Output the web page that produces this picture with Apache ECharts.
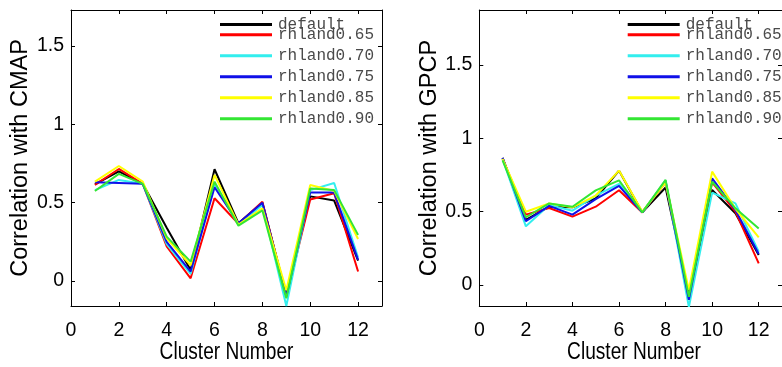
<!DOCTYPE html>
<html>
<head>
<meta charset="utf-8">
<script src="https://cdn.jsdelivr.net/npm/echarts@6/dist/echarts.min.js"></script>
<style>
html,body{margin:0;padding:0;background:#fff;}
#c{width:782px;height:367px;}
</style>
</head>
<body>
<div id="c"></div>
<script>
// ---- data ----
const clusters = [1,2,3,4,5,6,7,8,9,10,11,12];
const seriesNames = ['default','rhland0.65','rhland0.70','rhland0.75','rhland0.85','rhland0.90'];
const seriesColors = ['#000000','#ff0000','#33eeee','#1010e8','#ffff00','#33e633'];

const xTicks = [0,2,4,6,8,10,12];
const yTicks = [0,0.5,1,1.5];
const xTitle = 'Cluster Number';
const yTitleLeft = 'Correlation with CMAP';
const yTitleRight = 'Correlation with GPCP';

// Correlation with CMAP
const cmapDefault = [0.617,0.700,0.620,0.340,0.070,0.713,0.368,0.500,-0.089,0.540,0.513,0.130];
const cmap065     = [0.613,0.715,0.620,0.220,0.017,0.528,0.365,0.506,-0.100,0.520,0.560,0.060];
const cmap070     = [0.580,0.645,0.620,0.235,0.045,0.620,0.360,0.485,-0.160,0.580,0.625,0.150];
const cmap075     = [0.630,0.625,0.620,0.250,0.060,0.598,0.368,0.500,-0.100,0.564,0.564,0.134];
const cmap085     = [0.634,0.734,0.634,0.272,0.100,0.677,0.360,0.464,-0.060,0.613,0.575,0.268];
const cmap090     = [0.574,0.684,0.620,0.283,0.123,0.634,0.353,0.450,-0.110,0.590,0.580,0.294];

// Correlation with GPCP
const gpcpDefault = [0.867,0.444,0.534,0.530,0.590,0.780,0.495,0.665,-0.065,0.648,0.489,0.205];
const gpcp065     = [0.860,0.480,0.525,0.466,0.534,0.646,0.495,0.700,-0.080,0.700,0.500,0.148];
const gpcp070     = [0.860,0.400,0.545,0.507,0.610,0.690,0.495,0.714,-0.150,0.630,0.557,0.227];
const gpcp075     = [0.867,0.435,0.540,0.480,0.586,0.676,0.495,0.705,-0.100,0.727,0.512,0.211];
const gpcp085     = [0.860,0.500,0.556,0.530,0.610,0.780,0.500,0.698,-0.034,0.773,0.520,0.325];
const gpcp090     = [0.850,0.462,0.556,0.534,0.645,0.714,0.495,0.717,-0.080,0.704,0.523,0.386];

const cmapSets = [cmapDefault,cmap065,cmap070,cmap075,cmap085,cmap090];
const gpcpSets = [gpcpDefault,gpcp065,gpcp070,gpcp075,gpcp085,gpcp090];

// ---- chart ----
const regular = "'Liberation Sans',Arial,sans-serif";
const mono = "'Liberation Mono','DejaVu Sans Mono',monospace";

function xAx(grid, pos, show){
  return {
    type:'value', gridIndex:grid, position:pos, min:0, max:13,
    axisLine:{show:true, onZero:false, lineStyle:{color:'#000', width:1}},
    axisTick:{show:true, inside:true, length:4, customValues:xTicks, lineStyle:{color:'#000'}},
    axisLabel:{show:show, customValues:xTicks, margin:15, fontFamily:regular, fontSize:19.5, color:'#000'},
    splitLine:{show:false}
  };
}
function yAx(grid, pos, show, min, max, title){
  return {
    type:'value', gridIndex:grid, position:pos, min:min, max:max,
    name: show ? title : '', nameLocation:'middle', nameGap:35, nameRotate:90,
    nameTextStyle:{fontFamily:regular, fontSize:23.5, color:'#000'},
    axisLine:{show:true, onZero:false, lineStyle:{color:'#000', width:1}},
    axisTick:{show:true, inside:true, length:4, customValues:yTicks, lineStyle:{color:'#000'}},
    axisLabel:{show:show, customValues:yTicks, margin:7, fontFamily:regular, fontSize:19.5, color:'#000',
      formatter:function(v){return String(v);}},
    splitLine:{show:false}
  };
}

const series = [];
function addSeries(sets, grid){
  sets.forEach(function(vals, i){
    series.push({
      name: seriesNames[i], type:'line', xAxisIndex:grid*2, yAxisIndex:grid*2,
      data: clusters.map(function(c, k){ return [c, vals[k]]; }),
      symbol:'none', lineStyle:{width:2, color:seriesColors[i]}, itemStyle:{color:seriesColors[i]},
      z: 2 + i, animation:false, clip:true
    });
  });
}
addSeries(cmapSets, 0);
addSeries(gpcpSets, 1);

function legendPair(left){
  const common = {
    orient:'vertical', left:left, selectedMode:false, icon:'rect', itemWidth:52, itemHeight:3,
    padding:0, itemGap:5,
    textStyle:{fontFamily:mono, fontSize:16, color:'#4a4a4a', lineHeight:16, padding:[0,0,0,1]}
  };
  return [
    Object.assign({}, common, {top:16.5, data:[seriesNames[0]]}),
    Object.assign({}, common, {top:26.8, data:seriesNames.slice(1)})
  ];
}

function xName(cx){
  return {
    type:'text', x:cx, y:353, scaleX:0.82, scaleY:1, silent:true,
    style:{text:xTitle, fontFamily:regular, fontSize:23.3, fill:'#000', align:'center', verticalAlign:'middle'}
  };
}

const option = {
  backgroundColor:'#fff',
  animation:false,
  grid:[
    {left:71, right:400, top:10, bottom:61, containLabel:false},
    {left:479.3, right:-6.7, top:10, bottom:61, containLabel:false}
  ],
  xAxis:[xAx(0,'bottom',true), xAx(0,'top',false), xAx(1,'bottom',true), xAx(1,'top',false)],
  yAxis:[
    yAx(0,'left',true,-0.16,1.73,yTitleLeft), yAx(0,'right',false,-0.16,1.73,''),
    yAx(1,'left',true,-0.143,1.875,yTitleRight), yAx(1,'right',false,-0.143,1.875,'')
  ],
  legend: legendPair(220).concat(legendPair(627.7)),
  graphic: [xName(226.5), xName(634)],
  series: series
};

const chart = echarts.init(document.getElementById('c'), null, {renderer:'canvas'});
chart.setOption(option);
</script>
</body>
</html>
